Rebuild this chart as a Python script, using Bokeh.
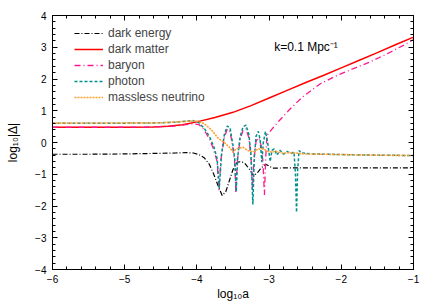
from bokeh.plotting import figure
from bokeh.models import (Range1d, SingleIntervalTicker, LinearAxis, Legend, LegendItem,
                          Label, CustomJSTickFormatter)
from bokeh.embed import file_html
from bokeh.resources import INLINE

# ---------------- data ----------------
de_x = [-6, -5.5, -5, -4.5, -4.3, -4.15, -4.05, -3.97, -3.9, -3.83, -3.77, -3.7, -3.65, -3.6,
        -3.55, -3.5, -3.44, -3.38, -3.33, -3.27, -3.22, -3.17, -3.12, -3.07, -3.04, -3.0,
        -2.95, -2.8, -2.5, -2.0, -1.5, -1.0]
de_y = [-0.37, -0.37, -0.36, -0.34, -0.33, -0.32, -0.33, -0.38, -0.48, -0.68, -0.98, -1.4, -1.67, -1.55,
        -1.2, -0.85, -0.62, -0.6, -0.67, -0.85, -1.04, -0.98, -0.83, -0.72, -0.69, -0.74,
        -0.81, -0.8, -0.8, -0.8, -0.8, -0.8]

dm_x = [-6, -5, -4.6, -4.4, -4.2, -4.0, -3.75, -3.5, -3.25, -3.0, -2.75, -2.5, -2.25, -2.0,
        -1.75, -1.5, -1.25, -1.0]
dm_y = [0.48, 0.48, 0.49, 0.51, 0.56, 0.65, 0.79, 0.95, 1.16, 1.4, 1.64, 1.88, 2.11, 2.35,
        2.59, 2.83, 3.08, 3.32]

b_x = [-6, -5, -4.6, -4.3, -4.15, -4.05, -3.97, -3.9, -3.83, -3.77, -3.72, -3.695, -3.665, -3.62,
       -3.58, -3.54, -3.5, -3.475, -3.46, -3.44, -3.4, -3.36, -3.32, -3.28, -3.25, -3.23, -3.21,
       -3.18, -3.14, -3.11, -3.085, -3.065, -3.045, -3.03, -2.95, -2.87, -2.72, -2.54, -2.29,
       -2.06, -1.83, -1.6, -1.36, -1.14, -1.0]
b_y = [0.48, 0.48, 0.49, 0.52, 0.56, 0.59, 0.56, 0.4, 0.12, -0.2, -0.6, -1.5, -0.5, 0.15,
       0.43, 0.35, -0.2, -0.65, -1.6, -0.55, 0.1, 0.4, 0.43, 0.15, -0.5, -1.5, -0.55,
       0.05, 0.15, -0.1, -0.6, -1.65, -0.4, 0.22, 0.45, 0.66, 1.03, 1.43, 1.85,
       2.11, 2.33, 2.54, 2.8, 3.06, 3.24]

ph_x = [-6, -5, -4.5, -4.3, -4.15, -4.05, -3.97, -3.9, -3.83, -3.77, -3.72, -3.69, -3.66, -3.62,
        -3.58, -3.54, -3.5, -3.475, -3.455, -3.435, -3.4, -3.36, -3.32, -3.28, -3.25, -3.225,
        -3.205, -3.18, -3.15, -3.125, -3.1, -3.08, -3.05, -3.02, -2.985, -2.96, -2.93, -2.89,
        -2.85, -2.8, -2.75, -2.7, -2.655, -2.635, -2.62, -2.605, -2.585, -2.55, -2.4, -2.0,
        -1.5, -1.0]
ph_y = [0.61, 0.61, 0.62, 0.64, 0.67, 0.69, 0.62, 0.45, 0.2, -0.1, -0.5, -1.45, -0.4, 0.25,
        0.52, 0.45, -0.1, -0.55, -1.55, -0.45, 0.2, 0.5, 0.55, 0.25, -0.4, -1.95,
        -0.45, 0.2, 0.35, 0.1, -0.62, 0.0, 0.35, 0.0, -0.6, -0.25, -0.2, -0.4,
        -0.24, -0.37, -0.28, -0.35, -0.3, -1.0, -2.2, -0.9, -0.25, -0.33, -0.36, -0.38,
        -0.4, -0.41]

nu_x = [-6, -4.5, -4.2, -4.0, -3.9, -3.8, -3.7, -3.62, -3.55, -3.5, -3.45, -3.36, -3.3, -3.22,
        -3.15, -3.08, -3.0, -2.9, -2.8, -2.7, -2.5, -2.0, -1.5, -1.0]
nu_y = [0.61, 0.62, 0.66, 0.68, 0.6, 0.4, 0.12, 0.0, -0.15, -0.3, -0.2, -0.15, -0.25, -0.3,
        -0.2, -0.2, -0.3, -0.28, -0.34, -0.32, -0.36, -0.38, -0.4, -0.41]

series_names = ["dark energy", "dark matter", "baryon", "photon", "massless neutrino"]
x_ticks_range = (-6, -1)
y_ticks_range = (-4, 4)
annotation_text = "k=0.1 Mpc\u207b\u00b9"

FONT = "Liberation Sans"

p = figure(width=436, height=306, output_backend="svg", toolbar_location=None,
           x_range=Range1d(*x_ticks_range), y_range=Range1d(*y_ticks_range),
           min_border_left=52, min_border_right=23, min_border_top=15, min_border_bottom=37,
           x_axis_label="log\u2081\u2080a", y_axis_label="log\u2081\u2080|\u0394|")
p.xgrid.visible = False
p.ygrid.visible = False
p.outline_line_color = "black"
p.outline_line_width = 1
p.background_fill_color = "white"
p.border_fill_color = "white"

def style_axis(ax, labels=True):
    ax.ticker = SingleIntervalTicker(interval=1, num_minor_ticks=5)
    ax.major_tick_in = 5
    ax.major_tick_out = 0
    ax.minor_tick_in = 3
    ax.minor_tick_out = 0
    ax.axis_line_color = "black"
    ax.major_tick_line_color = "black"
    ax.minor_tick_line_color = "black"
    if labels:
        ax.major_label_text_font = FONT
        ax.major_label_text_font_size = "10px"
        ax.major_label_text_color = "black"
        ax.axis_label_text_font = FONT
        ax.axis_label_text_font_size = "12px"
        ax.axis_label_text_font_style = "normal"
        ax.axis_label_text_color = "black"
    else:
        ax.major_label_text_font_size = "0px"
        ax.major_label_standoff = 0
        ax.formatter = CustomJSTickFormatter(code="return ''")

xa = p.xaxis[0]
ya = p.yaxis[0]
style_axis(xa)
style_axis(ya)
xa.major_label_standoff = 5
xa.axis_label_standoff = 1
ya.major_label_standoff = 6
ya.axis_label_standoff = 12

top = LinearAxis()
right = LinearAxis()
style_axis(top, labels=False)
style_axis(right, labels=False)
p.add_layout(top, "above")
p.add_layout(right, "right")

r_de = p.line(de_x, de_y, line_color="black", line_width=1.2, line_dash="5 2 1 2")
r_dm = p.line(dm_x, dm_y, line_color="#ff0000", line_width=1.5)
r_b = p.line(b_x, b_y, line_color="#ff1a8c", line_width=1.3, line_dash="6 3 1 3")
r_ph = p.line(ph_x, ph_y, line_color="#009090", line_width=1.5, line_dash="3 2")
r_nu = p.line(nu_x, nu_y, line_color="#ffa030", line_width=1.6, line_dash="2 1")

legend = Legend(items=[LegendItem(label=n, renderers=[r]) for n, r in
                       zip(series_names, [r_de, r_dm, r_b, r_ph, r_nu])],
                location=(22, 164), padding=0, margin=0, spacing=-1,
                glyph_width=29, glyph_height=16, label_height=16, label_standoff=5,
                label_text_font=FONT, label_text_font_size="12px",
                border_line_color=None, background_fill_alpha=0)
p.add_layout(legend)

p.add_layout(Label(x=-2.93, y=3.0, text=annotation_text, text_font=FONT,
                   text_font_size="12px", text_baseline="middle", text_align="left",
                   text_color="black"))

open("out.html", "w").write(file_html(p, INLINE))
